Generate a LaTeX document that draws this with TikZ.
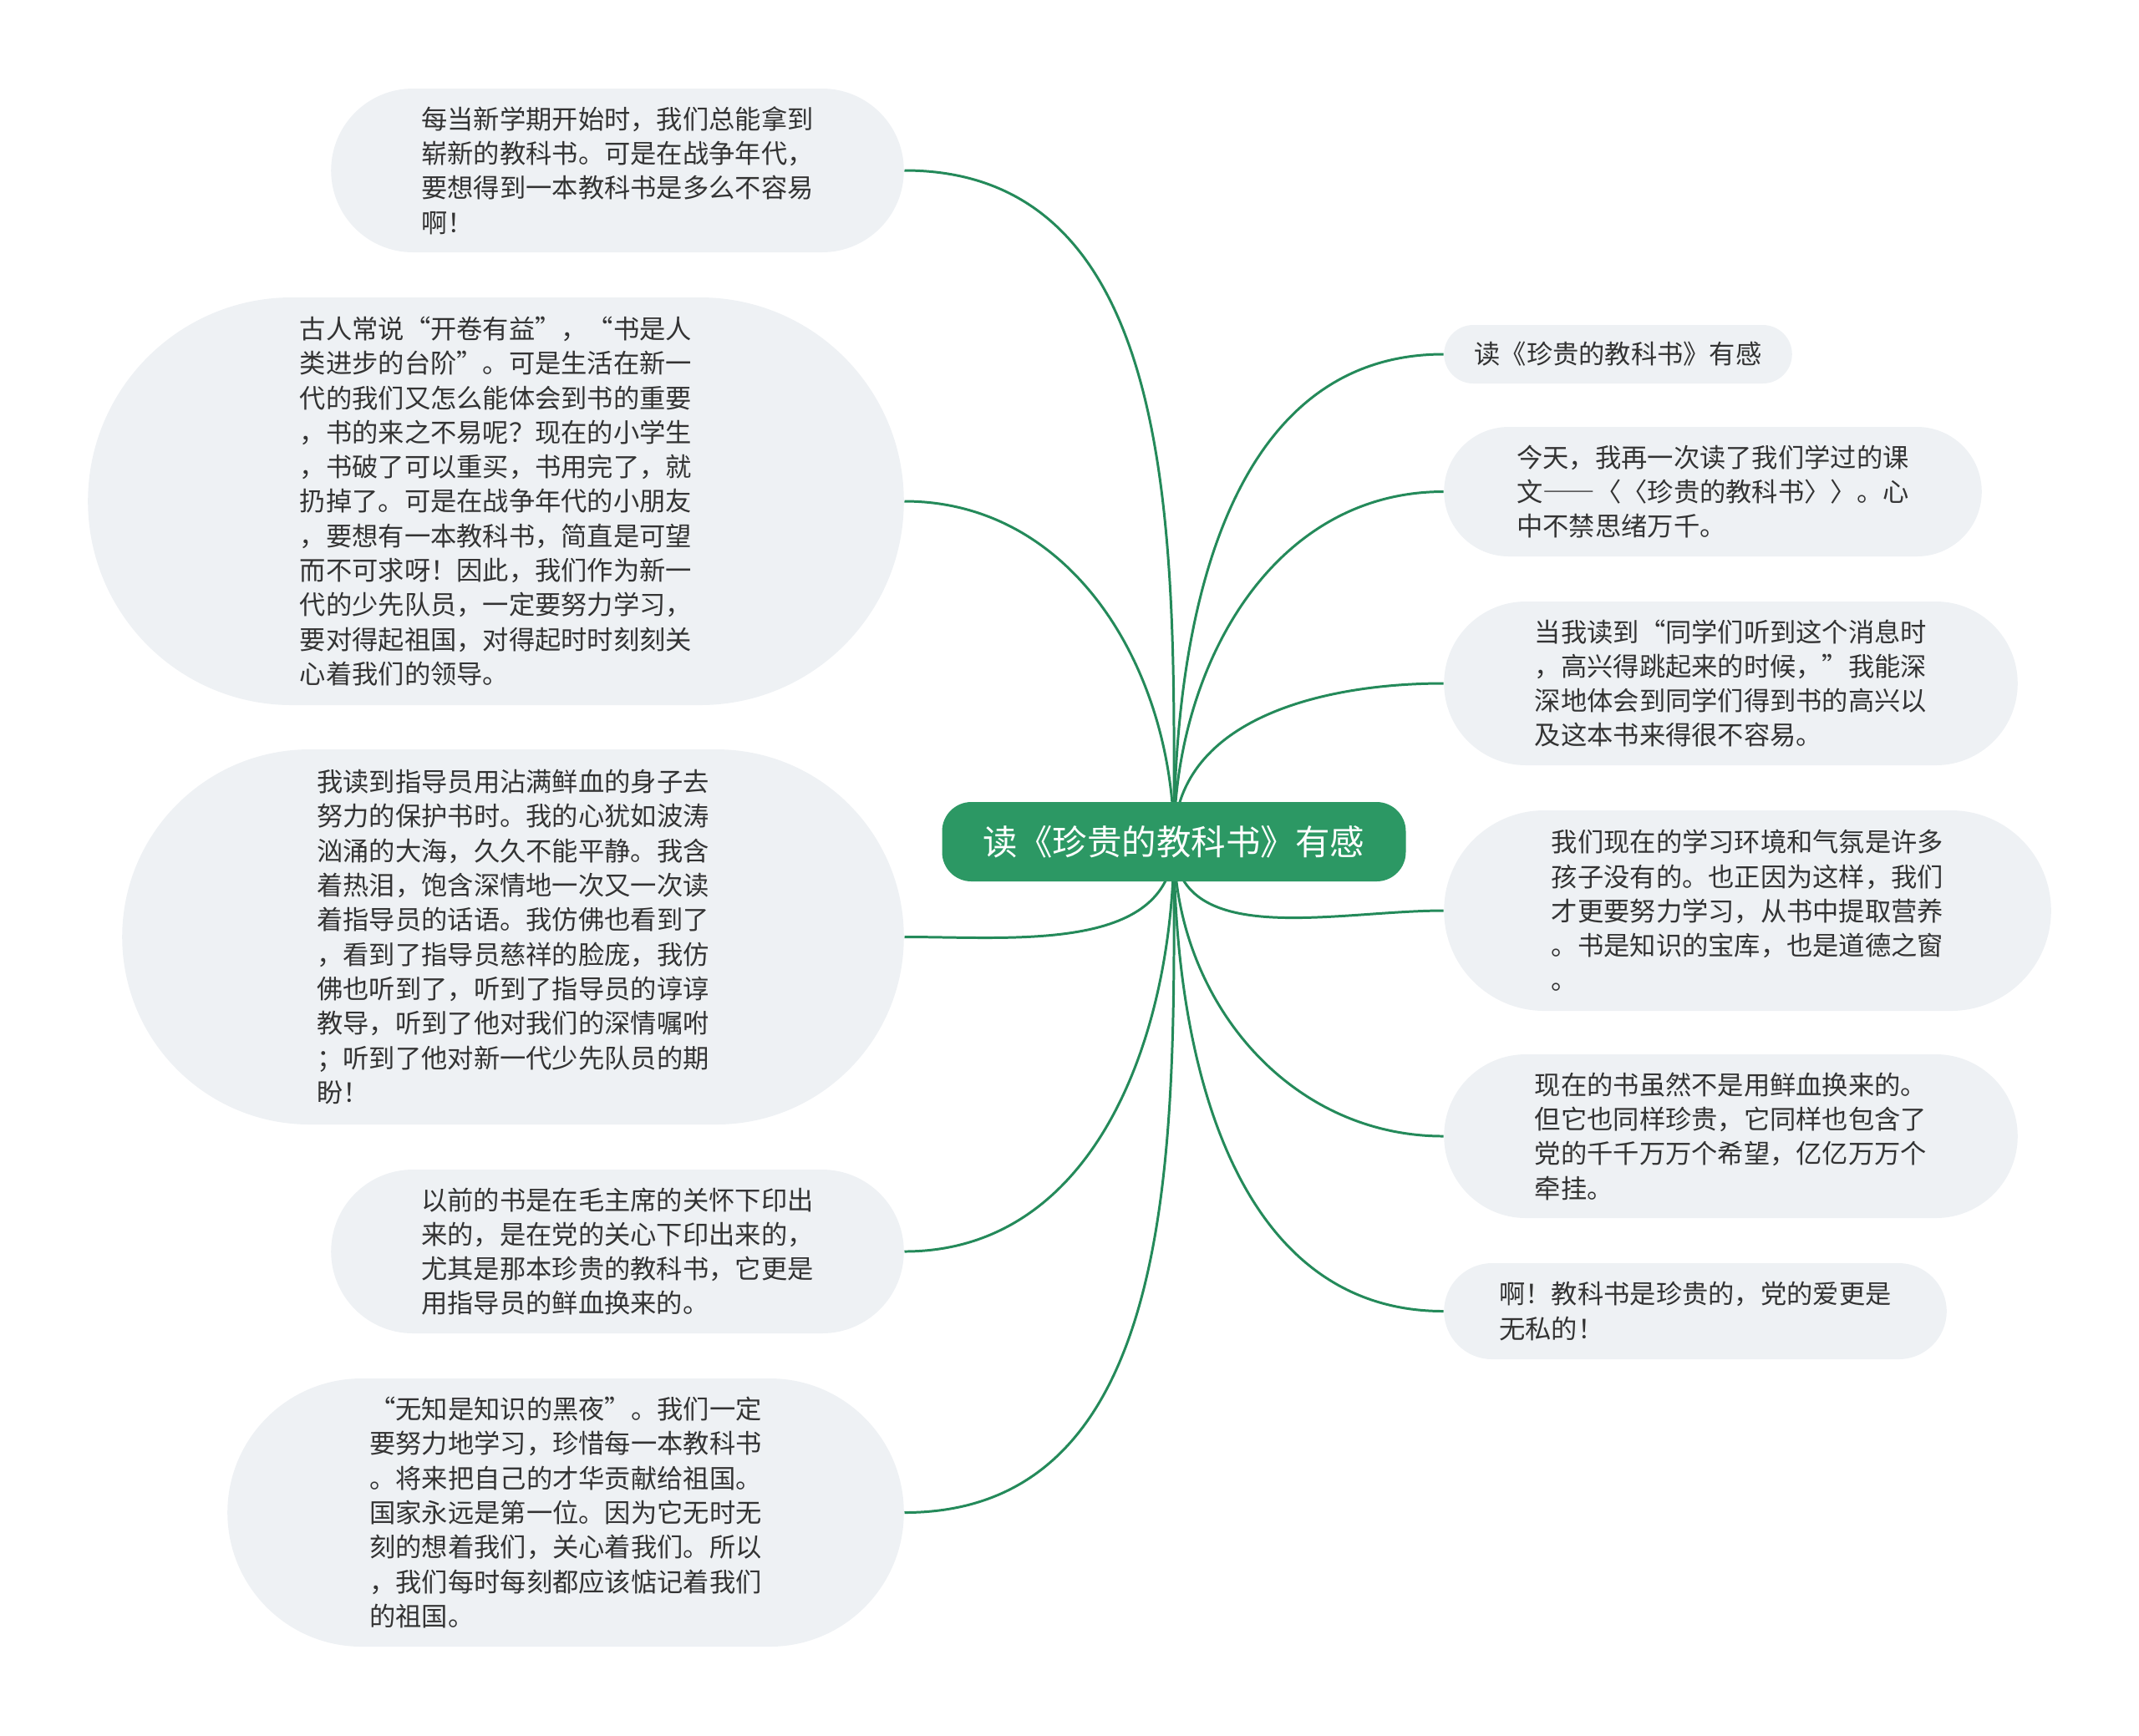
\documentclass[tikz,border=0pt]{standalone}
\usepackage{fontspec}
\setmainfont{Noto Sans CJK SC}
\usetikzlibrary{shapes.misc,backgrounds}

\definecolor{hubgreen}{RGB}{44,152,100}
\definecolor{linkgreen}{RGB}{36,138,90}
\definecolor{leafgray}{RGB}{238,241,244}
\definecolor{inkgray}{RGB}{51,51,51}

\newcommand{\widedash}{{\addfontfeature{RawFeature=+fwid}——}}

\begin{document}
\begin{tikzpicture}[
    hub/.style={rectangle, rounded corners=0.35cm, fill=hubgreen, text=white,
        font=\fontsize{11.8pt}{14pt}\selectfont, minimum width=5.55cm, minimum height=0.95cm},
    leaf/.style={rounded rectangle, fill=leafgray, text=inkgray, align=left,
        font=\fontsize{8.9pt}{11.75pt}\selectfont},
    link/.style={draw=linkgreen, line width=0.85pt}
]
    \useasboundingbox (0,0) rectangle (25.6,-20.77);

    % Central topic
    \node[hub] (topic) at (14.05,-10.075) {读《珍贵的教科书》有感};

    % Left branches
    \node[leaf, minimum width=7.09cm, minimum height=1.96cm] (newterm) at (7.39,-2.04) {每当新学期开始时，我们总能拿到\\
崭新的教科书。可是在战争年代，\\
要想得到一本教科书是多么不容易\\
啊！};
    \node[leaf, minimum width=10.0cm, minimum height=4.88cm] (ancient) at (5.935,-6.00) {古人常说“开卷有益”，“书是人\\
类进步的台阶”。可是生活在新一\\
代的我们又怎么能体会到书的重要\\
，书的来之不易呢？现在的小学生\\
，书破了可以重买，书用完了，就\\
扔掉了。可是在战争年代的小朋友\\
，要想有一本教科书，简直是可望\\
而不可求呀！因此，我们作为新一\\
代的少先队员，一定要努力学习，\\
要对得起祖国，对得起时时刻刻关\\
心着我们的领导。};
    \node[leaf, minimum width=9.59cm, minimum height=4.49cm] (guardian) at (6.14,-11.215) {我读到指导员用沾满鲜血的身子去\\
努力的保护书时。我的心犹如波涛\\
汹涌的大海，久久不能平静。我含\\
着热泪，饱含深情地一次又一次读\\
着指导员的话语。我仿佛也看到了\\
，看到了指导员慈祥的脸庞，我仿\\
佛也听到了，听到了指导员的谆谆\\
教导，听到了他对我们的深情嘱咐\\
；听到了他对新一代少先队员的期\\
盼！};
    \node[leaf, minimum width=7.09cm, minimum height=1.96cm] (chairman) at (7.39,-14.98) {以前的书是在毛主席的关怀下印出\\
来的，是在党的关心下印出来的，\\
尤其是那本珍贵的教科书，它更是\\
用指导员的鲜血换来的。};
    \node[leaf, minimum width=8.33cm, minimum height=3.21cm] (ignorance) at (6.77,-18.105) {“无知是知识的黑夜”。我们一定\\
要努力地学习，珍惜每一本教科书\\
。将来把自己的才华贡献给祖国。\\
国家永远是第一位。因为它无时无\\
刻的想着我们，关心着我们。所以\\
，我们每时每刻都应该惦记着我们\\
的祖国。};

    % Right branches
    \node[leaf, minimum width=4.40cm, minimum height=0.70cm] (title) at (19.365,-4.24) {读《珍贵的教科书》有感};
    \node[leaf, minimum width=6.67cm, minimum height=1.55cm] (reread) at (20.5,-5.885) {今天，我再一次读了我们学过的课\\
文\widedash〈〈珍贵的教科书〉〉。心\\
中不禁思绪万千。};
    \node[leaf, minimum width=7.10cm, minimum height=1.96cm] (overjoyed) at (20.715,-8.18) {当我读到“同学们听到这个消息时\\
，高兴得跳起来的时候，”我能深\\
深地体会到同学们得到书的高兴以\\
及这本书来得很不容易。};
    \node[leaf, minimum width=7.50cm, minimum height=2.40cm] (environment) at (20.915,-10.9) {我们现在的学习环境和气氛是许多\\
孩子没有的。也正因为这样，我们\\
才更要努力学习，从书中提取营养\\
。书是知识的宝库，也是道德之窗\\
。};
    \node[leaf, minimum width=7.10cm, minimum height=1.96cm] (nowadays) at (20.715,-13.6) {现在的书虽然不是用鲜血换来的。\\
但它也同样珍贵，它同样也包含了\\
党的千千万万个希望，亿亿万万个\\
牵挂。};
    \node[leaf, minimum width=6.25cm, minimum height=1.15cm] (selfless) at (20.29,-15.695) {啊！教科书是珍贵的，党的爱更是\\
无私的！};

    % Connectors
    \begin{scope}[on background layer]
        \draw[link] (topic.center) to[out=90,in=0] (newterm.east);
        \draw[link] (topic.center) to[out=90,in=0] (ancient.east);
        \draw[link] (topic.center) to[out=-90,in=0] (guardian.east);
        \draw[link] (topic.center) to[out=-90,in=0] (chairman.east);
        \draw[link] (topic.center) to[out=-90,in=0] (ignorance.east);
        \draw[link] (topic.center) to[out=90,in=180] (title.west);
        \draw[link] (topic.center) to[out=90,in=180] (reread.west);
        \draw[link] (topic.center) to[out=90,in=180] (overjoyed.west);
        \draw[link] (topic.center) to[out=-90,in=180] (environment.west);
        \draw[link] (topic.center) to[out=-90,in=180] (nowadays.west);
        \draw[link] (topic.center) to[out=-90,in=180] (selfless.west);
    \end{scope}
\end{tikzpicture}
\end{document}
